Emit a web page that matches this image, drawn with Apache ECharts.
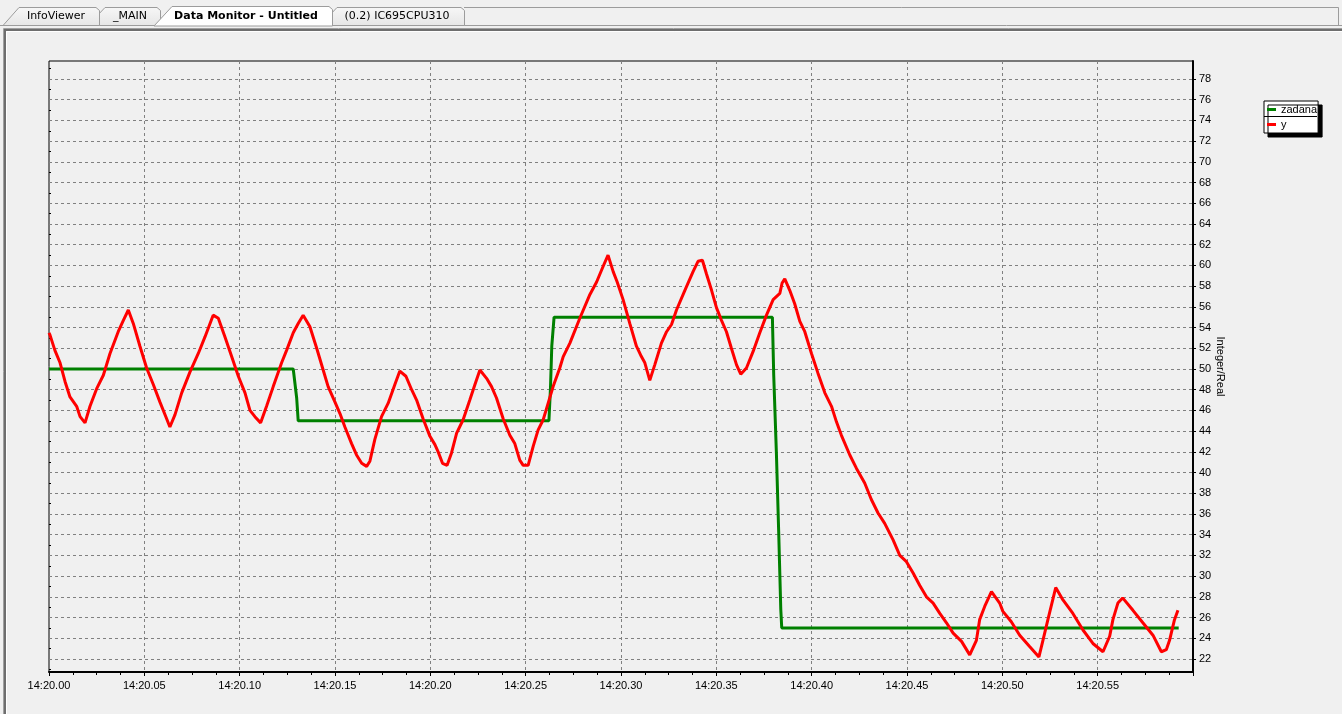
<!DOCTYPE html>
<html><head><meta charset="utf-8">
<script src="https://cdn.jsdelivr.net/npm/echarts@6/dist/echarts.min.js"></script>
<style>html,body{margin:0;padding:0;background:#f0f0f0;}#c{width:1342px;height:714px;}</style>
</head><body><div id="c"></div>
<script>
// ---- data (time in seconds after 14:20.00) ----
const zadanaT = [0, 0.1281, 0.1290, 0.1299, 0.1307, 0.2622, 0.2630, 0.2637, 0.2649, 0.3794, 0.3801, 0.3815, 0.3827, 0.3838, 0.3843, 0.5925];
const zadanaV = [50, 50, 48.6, 47.2, 45, 45, 48.1, 52.2, 55, 55, 49.4, 41.9, 34.3, 26.8, 25, 25];

const yT = [0,0.0005,0.0031,0.0058,0.0084,0.0110,0.0145,0.0163,0.0189,0.0215,0.0250,0.0285,0.0320,0.0363,0.0390,0.0416,0.0442,0.0477,0.0512,0.0547,0.0582,0.0617,0.0634,0.0661,0.0696,0.0739,0.0783,0.0818,0.0861,0.0888,0.0923,0.0958,0.0993,0.1028,0.1054,0.1080,0.1110,0.1141,0.1176,0.1220,0.1246,0.1281,0.1307,0.1333,0.1368,0.1404,0.1438,0.1464,0.1500,0.1526,0.1552,0.1587,0.1613,0.1640,0.1666,0.1683,0.1709,0.1744,0.1779,0.1814,0.1840,0.1872,0.1902,0.1928,0.1962,0.1998,0.2024,0.2041,0.2064,0.2088,0.2111,0.2138,0.2172,0.2207,0.2234,0.2260,0.2295,0.2321,0.2347,0.2382,0.2417,0.2443,0.2469,0.2487,0.2513,0.2539,0.2565,0.2592,0.2618,0.2644,0.2679,0.2697,0.2732,0.2784,0.2837,0.2872,0.2906,0.2932,0.2959,0.2980,0.3011,0.3046,0.3081,0.3107,0.3125,0.3151,0.3177,0.3212,0.3239,0.3265,0.3291,0.3335,0.3378,0.3404,0.3427,0.3448,0.3475,0.3501,0.3527,0.3553,0.3579,0.3606,0.3628,0.3658,0.3693,0.3728,0.3763,0.3798,0.3833,0.3845,0.3859,0.3885,0.3911,0.3938,0.3964,0.3999,0.4033,0.4069,0.4104,0.4130,0.4156,0.4200,0.4235,0.4278,0.4313,0.4348,0.4383,0.4427,0.4462,0.4497,0.4532,0.4567,0.4602,0.4637,0.4672,0.4707,0.4742,0.4786,0.4829,0.4864,0.4881,0.4908,0.4943,0.4986,0.5003,0.5047,0.5091,0.5143,0.5192,0.5213,0.5239,0.5280,0.5318,0.5370,0.5423,0.5475,0.5528,0.5563,0.5580,0.5606,0.5631,0.5685,0.5737,0.5790,0.5834,0.5860,0.5877,0.5903,0.5921];
const yV = [53.5,53.3,51.8,50.6,48.8,47.3,46.4,45.4,44.8,46.4,48.1,49.4,51.5,53.6,54.7,55.7,54.4,52.2,50.1,48.5,46.8,45.2,44.4,45.6,47.7,49.7,51.5,53.1,55.2,54.9,53.1,51.2,49.3,47.7,46.0,45.4,44.8,46.4,48.3,50.6,51.8,53.5,54.4,55.2,54.1,52.0,49.9,48.3,46.8,45.7,44.4,42.8,41.7,40.9,40.6,41.1,43.2,45.4,46.7,48.5,49.8,49.3,48.0,47.0,45.2,43.5,42.7,42.0,40.9,40.7,41.9,43.8,45.1,47.0,48.5,49.9,49.1,48.3,47.2,45.2,43.6,42.8,41.2,40.7,40.7,42.5,44.1,45.1,46.7,48.3,50.1,51.2,52.5,54.9,57.2,58.4,59.9,61.0,59.4,58.4,56.7,54.4,52.2,51.2,50.6,48.9,50.4,52.5,53.6,54.3,55.7,57.6,59.4,60.4,60.5,59.2,57.6,55.9,54.7,53.6,52.0,50.4,49.5,50.1,51.7,53.5,55.2,56.7,57.3,58.3,58.7,57.6,56.3,54.6,53.6,51.5,49.6,47.7,46.4,44.9,43.6,41.7,40.4,39.0,37.4,36.1,35.1,33.5,32.0,31.4,30.3,29.1,28.0,27.4,26.4,25.5,24.5,23.7,22.4,23.8,25.8,27.1,28.5,27.4,26.6,25.6,24.3,23.2,22.2,23.8,25.8,28.9,27.7,26.4,24.8,23.5,22.7,24.2,25.8,27.4,27.9,26.7,25.5,24.3,22.7,22.9,23.8,25.8,26.7];

const yTicks = [22,24,26,28,30,32,34,36,38,40,42,44,46,48,50,52,54,56,58,60,62,64,66,68,70,72,74,76,78];
const yMinorTicks = [21,23,25,27,29,31,33,35,37,39,41,43,45,47,49,51,53,55,57,59,61,63,65,67,69,71,73,75,77,79];
const xTickLabels = ['14:20.00','14:20.05','14:20.10','14:20.15','14:20.20','14:20.25','14:20.30','14:20.35','14:20.40','14:20.45','14:20.50','14:20.55'];
const seriesNames = ['zadana', 'y'];
const tabLabels = ['InfoViewer', '_MAIN', 'Data Monitor - Untitled', '(0.2) IC695CPU310'];
const axisName = 'Integer/Real';

const yMin = 20.745, yMax = 79.74;
const FONT = 'Liberation Sans, Arial, sans-serif';

const chart = echarts.init(document.getElementById('c'), null, {renderer: 'canvas'});

const tabFill = new echarts.graphic.LinearGradient(0, 0, 0, 1, [{offset: 0, color: '#f7f7f7'}, {offset: 1, color: '#e6e6e6'}]);
const tabStroke = '#9c9c9c';
const tabFont = '11px "DejaVu Sans", sans-serif';

const graphics = [
  // panel frame
  {type: 'rect', shape: {x: 3.5, y: 28.5, width: 1345, height: 700}, style: {fill: 'none', stroke: '#a0a0a0', lineWidth: 1}, silent: true},
  {type: 'rect', shape: {x: 5, y: 30, width: 1345, height: 700}, style: {fill: 'none', stroke: '#6e6e6e', lineWidth: 2}, silent: true},
  {type: 'rect', shape: {x: 6.5, y: 31.5, width: 1345, height: 700}, style: {fill: 'none', stroke: '#ffffff', lineWidth: 1}, silent: true},
  // tab strip
  {type: 'line', shape: {x1: 0, y1: 25.5, x2: 1342, y2: 25.5}, style: {stroke: tabStroke, lineWidth: 1}, silent: true},
  {type: 'polyline', shape: {points: [[464, 7.5], [1338.5, 7.5], [1338.5, 25]]}, style: {stroke: tabStroke, fill: 'none', lineWidth: 1}, silent: true},
  // tab 4
  {type: 'polygon', shape: {points: [[320, 25.5], [337, 7.5], [461, 7.5], [464.5, 10.5], [464.5, 25.5]]}, style: {fill: tabFill, stroke: tabStroke, lineWidth: 1}, silent: true},
  {type: 'text', x: 397, y: 16, style: {text: tabLabels[3], font: tabFont, fill: '#000', align: 'center', verticalAlign: 'middle'}, silent: true},
  // tab 2
  {type: 'polygon', shape: {points: [[88, 25.5], [105, 7.5], [157, 7.5], [160.5, 10.5], [160.5, 25.5]]}, style: {fill: tabFill, stroke: tabStroke, lineWidth: 1}, silent: true},
  {type: 'text', x: 130, y: 16, style: {text: tabLabels[1], font: tabFont, fill: '#000', align: 'center', verticalAlign: 'middle'}, silent: true},
  // tab 1
  {type: 'polygon', shape: {points: [[3, 25.5], [19, 7.5], [96, 7.5], [99.5, 10.5], [99.5, 25.5]]}, style: {fill: tabFill, stroke: tabStroke, lineWidth: 1}, silent: true},
  {type: 'text', x: 56, y: 16, style: {text: tabLabels[0], font: tabFont, fill: '#000', align: 'center', verticalAlign: 'middle'}, silent: true},
  // active tab 3
  {type: 'polygon', shape: {points: [[154, 26], [172, 6.5], [329, 6.5], [332.5, 9.5], [332.5, 26]]}, style: {fill: '#ffffff', stroke: tabStroke, lineWidth: 1}, silent: true},
  {type: 'text', x: 246, y: 16, style: {text: tabLabels[2], font: 'bold 11px "DejaVu Sans", sans-serif', fill: '#000', align: 'center', verticalAlign: 'middle'}, silent: true},
  // legend row separator
  {type: 'line', shape: {x1: 1264, y1: 116.5, x2: 1317, y2: 116.5}, style: {stroke: '#000', lineWidth: 1}, z: 100, silent: true}
];

const option = {
  backgroundColor: '#f0f0f0',
  animation: false,
  textStyle: {fontFamily: FONT},
  graphic: graphics,
  grid: {left: 49, right: 149, top: 61, bottom: 42, show: true, borderColor: '#000', borderWidth: 1, backgroundColor: 'transparent'},
  legend: {
    orient: 'vertical', left: 1264, top: 101, itemGap: 2, itemWidth: 9, itemHeight: 3, icon: 'rect',
    padding: [2, 1, 2, 3], backgroundColor: '#fff', borderColor: '#000', borderWidth: 1,
    shadowColor: '#000', shadowOffsetX: 4, shadowOffsetY: 4, shadowBlur: 0,
    textStyle: {fontSize: 11, color: '#000', fontFamily: FONT, lineHeight: 13},
    selectedMode: false,
    data: seriesNames
  },
  xAxis: {
    type: 'value', min: 0, max: 0.6, interval: 0.05,
    axisLine: {show: true, onZero: false, lineStyle: {color: '#000', width: 2}},
    axisTick: {show: true, length: 4, lineStyle: {color: '#000'}},
    minorTick: {show: true, splitNumber: 4, length: 3, lineStyle: {color: '#000'}},
    axisLabel: {
      color: '#000', fontSize: 11, fontFamily: FONT, margin: 8, showMaxLabel: false,
      formatter: v => { const i = Math.round(v / 0.05); return xTickLabels[i] || ''; }
    },
    splitLine: {show: true, showMinLine: false, showMaxLine: false, lineStyle: {color: '#808080', type: [3, 3], width: 1}}
  },
  yAxis: [{
    type: 'value', position: 'right', min: yMin, max: yMax,
    axisLine: {show: true, onZero: false, lineStyle: {color: '#000', width: 2}},
    axisTick: {show: true, customValues: yTicks, length: 3, lineStyle: {color: '#000'}},
    axisLabel: {customValues: yTicks, color: '#000', fontSize: 11, fontFamily: FONT, margin: 6},
    splitLine: {show: true, lineStyle: {color: '#808080', type: [3, 3], width: 1}},
    name: axisName, nameLocation: 'middle', nameRotate: -90, nameGap: 22, nameMoveOverlap: false,
    nameTextStyle: {color: '#000', fontSize: 11, fontFamily: FONT}
  }, {
    type: 'value', position: 'right', min: yMin, max: yMax,
    axisLine: {show: false},
    axisTick: {show: true, customValues: yMinorTicks, length: 2, lineStyle: {color: '#000'}},
    axisLabel: {show: false},
    splitLine: {show: false}
  }],
  series: [{
    name: seriesNames[0], type: 'line', showSymbol: false, symbol: 'none', color: '#008000',
    lineStyle: {width: 3, color: '#008000'}, z: 3,
    data: zadanaT.map((t, i) => [t, zadanaV[i]])
  }, {
    name: seriesNames[1], type: 'line', showSymbol: false, symbol: 'none', color: '#ff0000',
    lineStyle: {width: 3, color: '#ff0000'}, z: 4,
    data: yT.map((t, i) => [t, yV[i]])
  }]
};
chart.setOption(option);
</script>
</body></html>
